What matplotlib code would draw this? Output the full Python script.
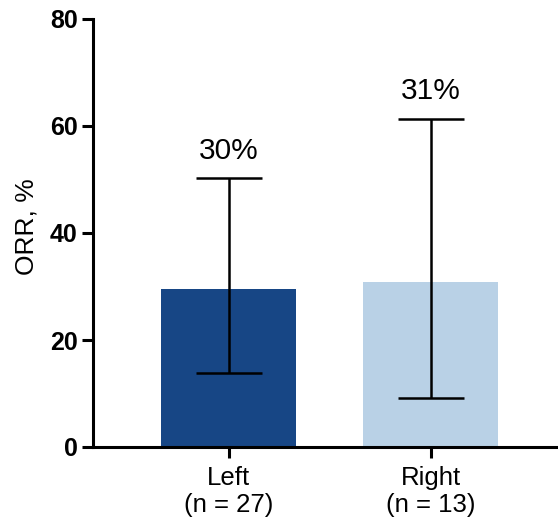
import matplotlib.pyplot as plt

plt.rcParams['font.family'] = ['Liberation Sans', 'DejaVu Sans']

groups = ["Left\n(n = 27)", "Right\n(n = 13)"]
orr = [29.6, 30.8]
ci_low = [13.8, 9.1]
ci_high = [50.2, 61.4]
bar_labels = ["30%", "31%"]
colors = ["#174685", "#B9D1E6"]

fig = plt.figure(figsize=(5.58, 5.22), dpi=100)
ax = fig.add_axes([93 / 558, 75 / 522, 464 / 558, 428 / 522])

x = list(range(len(groups)))
ax.bar(x, orr, width=0.668, color=colors, zorder=1)

yerr = [[v - lo for v, lo in zip(orr, ci_low)],
        [hi - v for v, hi in zip(orr, ci_high)]]
ax.errorbar(x, orr, yerr=yerr, fmt='none', ecolor='black',
            elinewidth=1.8, capsize=24, capthick=1.8, zorder=3)

for xi, hi, lab in zip(x, ci_high, bar_labels):
    ax.annotate(lab, (xi, hi), xytext=(0, 10), textcoords='offset points',
                ha='center', va='bottom', fontsize=21.5)

ax.set_xlim(-0.671, 1.626)
ax.set_ylim(0, 80)
ax.set_yticks([0, 20, 40, 60, 80])
ax.set_xticks(x)
ax.set_xticklabels(groups, fontsize=18.5, linespacing=1.12)
ax.set_ylabel("ORR, %", fontsize=19)
ax.yaxis.set_label_coords(-0.118, 0.515)
for t in ax.get_yticklabels():
    t.set_fontweight('bold')
    t.set_fontsize(18)

for side in ['top', 'right']:
    ax.spines[side].set_visible(False)
for side in ['left', 'bottom']:
    ax.spines[side].set_linewidth(2.2)
ax.tick_params(axis='y', width=2.2, length=8, pad=3)
ax.tick_params(axis='x', width=2.2, length=8, pad=6)

fig.savefig("out.png", dpi=100)
